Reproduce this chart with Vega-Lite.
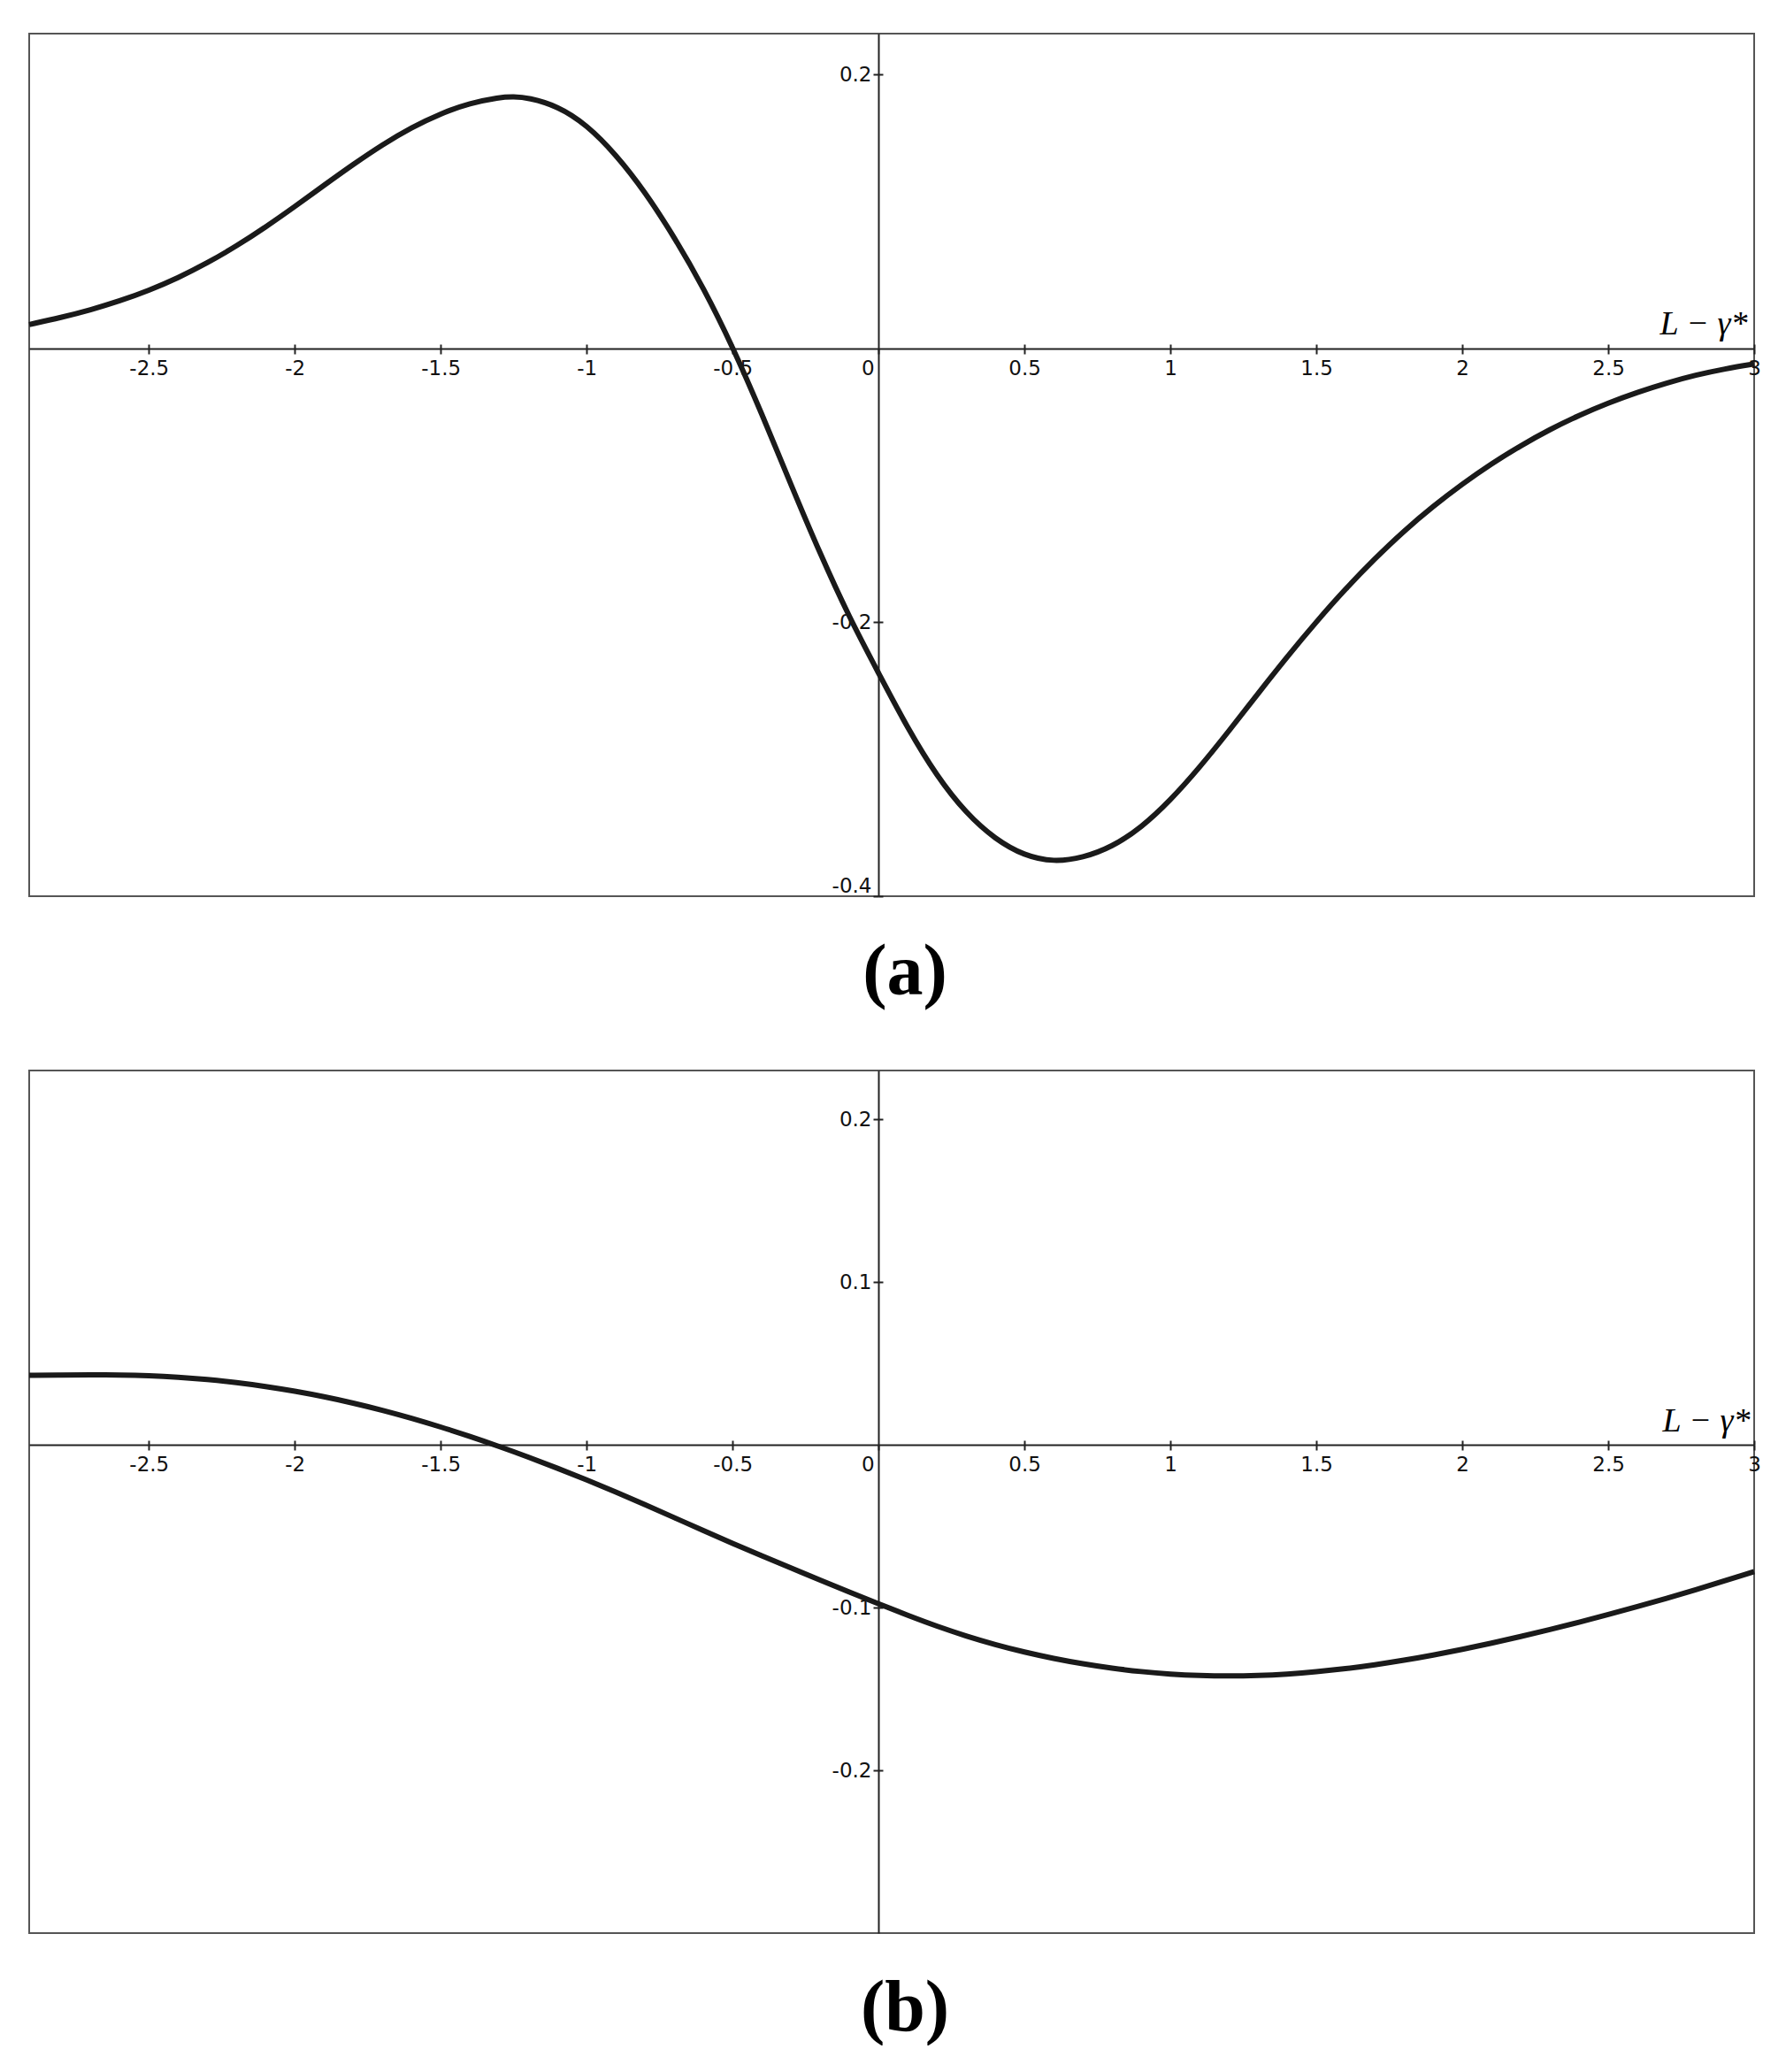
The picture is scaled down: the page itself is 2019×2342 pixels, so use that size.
{
  "$schema": "https://vega.github.io/schema/vega-lite/v6.json",
  "background": "white",
  "padding": {"left": 20, "top": 37, "right": 0, "bottom": 0},
  "config": {
    "view": {"stroke": "#555555", "strokeWidth": 2},
    "axis": {
      "grid": false,
      "labelFont": "DejaVu Sans",
      "labelFontSize": 23,
      "labelColor": "#111111",
      "domainColor": "#222222",
      "domainWidth": 2,
      "tickColor": "#222222",
      "tickWidth": 2,
      "tickSize": 6
    }
  },
  "datasets": {
    "a": [
      {"x": -2.91, "y": 0.0175}, {"x": -2.8, "y": 0.0227}, {"x": -2.7, "y": 0.0282}, {"x": -2.6, "y": 0.0347},
      {"x": -2.5, "y": 0.0424}, {"x": -2.4, "y": 0.0516}, {"x": -2.3, "y": 0.0624}, {"x": -2.2, "y": 0.0748},
      {"x": -2.1, "y": 0.0887}, {"x": -2.0, "y": 0.1037}, {"x": -1.9, "y": 0.1192}, {"x": -1.8, "y": 0.1345},
      {"x": -1.7, "y": 0.1489}, {"x": -1.6, "y": 0.1615}, {"x": -1.5, "y": 0.1717}, {"x": -1.4, "y": 0.1792},
      {"x": -1.3, "y": 0.1835}, {"x": -1.25, "y": 0.184}, {"x": -1.2, "y": 0.1832}, {"x": -1.1, "y": 0.1772},
      {"x": -1.0, "y": 0.1635}, {"x": -0.9, "y": 0.1418}, {"x": -0.8, "y": 0.1145}, {"x": -0.7, "y": 0.0815},
      {"x": -0.6, "y": 0.0445}, {"x": -0.5, "y": 0.0015}, {"x": -0.4, "y": -0.0475}, {"x": -0.3, "y": -0.0995},
      {"x": -0.2, "y": -0.15}, {"x": -0.1, "y": -0.1965}, {"x": 0.0, "y": -0.237}, {"x": 0.1, "y": -0.2775},
      {"x": 0.2, "y": -0.3125}, {"x": 0.3, "y": -0.3395}, {"x": 0.4, "y": -0.3585}, {"x": 0.5, "y": -0.3705},
      {"x": 0.6, "y": -0.375}, {"x": 0.7, "y": -0.372}, {"x": 0.8, "y": -0.364}, {"x": 0.9, "y": -0.35},
      {"x": 1.0, "y": -0.33}, {"x": 1.1, "y": -0.306}, {"x": 1.2, "y": -0.2795}, {"x": 1.3, "y": -0.252},
      {"x": 1.4, "y": -0.225}, {"x": 1.5, "y": -0.1995}, {"x": 1.6, "y": -0.1755}, {"x": 1.7, "y": -0.1535},
      {"x": 1.8, "y": -0.1332}, {"x": 1.9, "y": -0.1152}, {"x": 2.0, "y": -0.0989}, {"x": 2.1, "y": -0.0841},
      {"x": 2.2, "y": -0.0709}, {"x": 2.3, "y": -0.0591}, {"x": 2.4, "y": -0.0487}, {"x": 2.5, "y": -0.0397},
      {"x": 2.6, "y": -0.0319}, {"x": 2.7, "y": -0.0251}, {"x": 2.8, "y": -0.0193}, {"x": 2.9, "y": -0.0148},
      {"x": 3.0, "y": -0.0112}
    ],
    "b": [
      {"x": -2.91, "y": 0.0427}, {"x": -2.8, "y": 0.0429}, {"x": -2.7, "y": 0.043}, {"x": -2.6, "y": 0.0429},
      {"x": -2.5, "y": 0.0425}, {"x": -2.4, "y": 0.0416}, {"x": -2.3, "y": 0.0402}, {"x": -2.2, "y": 0.0383},
      {"x": -2.1, "y": 0.0359}, {"x": -2.0, "y": 0.033}, {"x": -1.9, "y": 0.0296}, {"x": -1.8, "y": 0.0257},
      {"x": -1.7, "y": 0.0213}, {"x": -1.6, "y": 0.0164}, {"x": -1.5, "y": 0.011}, {"x": -1.4, "y": 0.0052},
      {"x": -1.3, "y": -0.001}, {"x": -1.2, "y": -0.0075}, {"x": -1.1, "y": -0.0144}, {"x": -1.0, "y": -0.0215},
      {"x": -0.9, "y": -0.029}, {"x": -0.8, "y": -0.0368}, {"x": -0.7, "y": -0.0447}, {"x": -0.6, "y": -0.0527},
      {"x": -0.5, "y": -0.0605}, {"x": -0.4, "y": -0.0682}, {"x": -0.3, "y": -0.0757}, {"x": -0.2, "y": -0.0831},
      {"x": -0.1, "y": -0.0904}, {"x": 0.0, "y": -0.0977}, {"x": 0.1, "y": -0.1048}, {"x": 0.2, "y": -0.1115},
      {"x": 0.3, "y": -0.1175}, {"x": 0.4, "y": -0.1228}, {"x": 0.5, "y": -0.1274}, {"x": 0.6, "y": -0.1313},
      {"x": 0.7, "y": -0.1346}, {"x": 0.8, "y": -0.1373}, {"x": 0.9, "y": -0.1394}, {"x": 1.0, "y": -0.1409},
      {"x": 1.1, "y": -0.1418}, {"x": 1.2, "y": -0.1421}, {"x": 1.3, "y": -0.1418}, {"x": 1.4, "y": -0.1409},
      {"x": 1.5, "y": -0.1395}, {"x": 1.6, "y": -0.1376}, {"x": 1.7, "y": -0.1352}, {"x": 1.8, "y": -0.1324},
      {"x": 1.9, "y": -0.1292}, {"x": 2.0, "y": -0.1257}, {"x": 2.1, "y": -0.1219}, {"x": 2.2, "y": -0.1178},
      {"x": 2.3, "y": -0.1135}, {"x": 2.4, "y": -0.109}, {"x": 2.5, "y": -0.1043}, {"x": 2.6, "y": -0.0994},
      {"x": 2.7, "y": -0.0943}, {"x": 2.8, "y": -0.089}, {"x": 2.9, "y": -0.0835}, {"x": 3.0, "y": -0.0779}
    ]
  },
  "vconcat": [
    {
      "width": 1950,
      "height": 975,
      "title": {"text": "(a)", "orient": "bottom", "font": "Liberation Serif", "fontWeight": "bold", "fontSize": 82, "color": "#000000", "offset": 45, "dx": 15},
      "data": {"name": "a"},
      "layer": [
        {
          "mark": {"type": "line", "interpolate": "basis", "strokeWidth": 6, "color": "#1a1a1a"},
          "encoding": {
            "x": {"field": "x", "type": "quantitative", "scale": {"domain": [-2.91, 3], "nice": false, "zero": false},
              "axis": {"orient": "bottom", "offset": -619, "labelFlush": false, "labelPadding": 5,
                "values": [-2.5, -2, -1.5, -1, -0.5, 0, 0.5, 1, 1.5, 2, 2.5, 3],
                "labelExpr": "toString(datum.value)",
                "labelAlign": {"condition": {"test": "datum.value === 0", "value": "right"}, "value": "center"},
                "labelOffset": {"condition": {"test": "datum.value === 0", "value": -5}, "value": 0},
                "title": "L − γ*", "titleX": 1942, "titleY": -17, "titleAlign": "right", "titleBaseline": "alphabetic",
                "titleFont": "Liberation Serif", "titleFontStyle": "italic", "titleFontWeight": "normal", "titleFontSize": 38, "titleColor": "#000000"}},
            "y": {"field": "y", "type": "quantitative", "scale": {"domain": [-0.4, 0.23], "nice": false, "zero": false},
              "axis": {"orient": "left", "offset": -960, "values": [-0.4, -0.2, 0.2], "labelExpr": "toString(datum.value)",
                "labelFlush": true, "labelPadding": 2, "title": null}}
          }
        },
        {
          "mark": {"type": "line", "opacity": 0},
          "encoding": {
            "x": {"field": "x", "type": "quantitative",
              "axis": {"orient": "top", "offset": -356, "labels": false, "domain": false, "title": null, "tickSize": 5,
                "values": [-2.5, -2, -1.5, -1, -0.5, 0.5, 1, 1.5, 2, 2.5, 3]}},
            "y": {"field": "y", "type": "quantitative",
              "axis": {"orient": "right", "offset": -990, "labels": false, "domain": false, "title": null, "tickSize": 5,
                "values": [-0.4, -0.2, 0.2]}}
          }
        }
      ],
      "resolve": {"axis": {"x": "independent", "y": "independent"}}
    },
    {
      "width": 1950,
      "height": 975,
      "title": {"text": "(b)", "orient": "bottom", "font": "Liberation Serif", "fontWeight": "bold", "fontSize": 82, "color": "#000000", "offset": 45, "dx": 15},
      "data": {"name": "b"},
      "layer": [
        {
          "mark": {"type": "line", "interpolate": "basis", "strokeWidth": 6, "color": "#1a1a1a"},
          "encoding": {
            "x": {"field": "x", "type": "quantitative", "scale": {"domain": [-2.91, 3], "nice": false, "zero": false},
              "axis": {"orient": "bottom", "offset": -552, "labelFlush": false, "labelPadding": 5,
                "values": [-2.5, -2, -1.5, -1, -0.5, 0, 0.5, 1, 1.5, 2, 2.5, 3],
                "labelExpr": "toString(datum.value)",
                "labelAlign": {"condition": {"test": "datum.value === 0", "value": "right"}, "value": "center"},
                "labelOffset": {"condition": {"test": "datum.value === 0", "value": -5}, "value": 0},
                "title": "L − γ*", "titleX": 1945, "titleY": -16, "titleAlign": "right", "titleBaseline": "alphabetic",
                "titleFont": "Liberation Serif", "titleFontStyle": "italic", "titleFontWeight": "normal", "titleFontSize": 38, "titleColor": "#000000"}},
            "y": {"field": "y", "type": "quantitative", "scale": {"domain": [-0.3, 0.23], "nice": false, "zero": false},
              "axis": {"orient": "left", "offset": -960, "values": [-0.2, -0.1, 0.1, 0.2], "labelExpr": "toString(datum.value)",
                "labelFlush": false, "labelPadding": 2, "title": null}}
          }
        },
        {
          "mark": {"type": "line", "opacity": 0},
          "encoding": {
            "x": {"field": "x", "type": "quantitative",
              "axis": {"orient": "top", "offset": -423, "labels": false, "domain": false, "title": null, "tickSize": 5,
                "values": [-2.5, -2, -1.5, -1, -0.5, 0.5, 1, 1.5, 2, 2.5, 3]}},
            "y": {"field": "y", "type": "quantitative",
              "axis": {"orient": "right", "offset": -990, "labels": false, "domain": false, "title": null, "tickSize": 5,
                "values": [-0.2, -0.1, 0.1, 0.2]}}
          }
        }
      ],
      "resolve": {"axis": {"x": "independent", "y": "independent"}}
    }
  ],
  "spacing": 68
}
